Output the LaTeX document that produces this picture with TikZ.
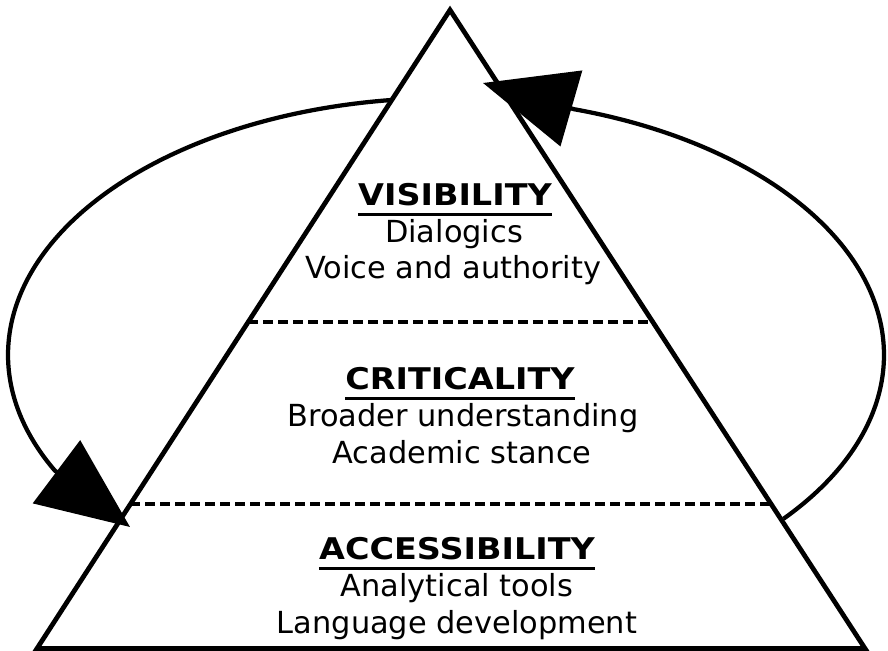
\documentclass[tikz,border=0pt]{standalone}
\usepackage{fontspec}
\setmainfont{DejaVu Sans}
\newfontfamily\headfont[FakeStretch=1.12]{DejaVu Sans}
\usepackage{tikz}
\usetikzlibrary{arrows.meta,calc}
\tikzset{pyramid/.style={line width=0.095cm, line join=miter},
  tier/.style={line width=0.075cm, dash pattern=on 0.2cm off 0.1cm},
  cyclearrow/.style={line width=0.085cm, -{Triangle[length=1.84cm,width=1.56cm]}},
  levelname/.style={inner sep=0, anchor=base, font=\fontsize{17}{21}\headfont\bfseries},
  levelitem/.style={inner sep=0, anchor=base, font=\fontsize{17.3}{21}\selectfont},
  uline/.style={line width=0.06cm}}

\begin{document}
\begin{tikzpicture}[x=0.02cm, y=0.02cm]
\useasboundingbox (0,0) rectangle (888,651);
\coordinate (bl) at (37,2.5);
\coordinate (br) at (865,2.5);
\coordinate (top) at (450,641);
\coordinate (c) at (446,296);
\coordinate (tipL) at (130,124);
\coordinate (tipR) at (483,568);
\draw[cyclearrow] (c) ++(97.3:438 and 257) arc[start angle=97.3, end angle=206.7, x radius=438, y radius=257] -- (tipL);
\draw[cyclearrow] (c) ++(-39.6:438 and 257) arc[start angle=-39.6, end angle=73, x radius=438, y radius=257] -- (tipR);
\draw[pyramid] (bl) -- (top) -- (br) -- cycle;
\draw[tier] ($(bl)!0.511!(top)$) -- ($(br)!0.511!(top)$);
\draw[tier] ($(bl)!0.226!(top)$) -- ($(br)!0.226!(top)$);
\node[levelname] (vis) at (455,445) {VISIBILITY};
\node[levelitem] (vis1) at (454,408) {Dialogics};
\node[levelitem] (vis2) at (453,372) {Voice and authority};
\node[levelname] (crit) at (460,261) {CRITICALITY};
\node[levelitem] (crit1) at (463,224) {Broader understanding};
\node[levelitem] (crit2) at (462,187) {Academic stance};
\node[levelname] (acc) at (457,91) {ACCESSIBILITY};
\node[levelitem] (acc1) at (457,54) {Analytical tools};
\node[levelitem] (acc2) at (457,17) {Language development};
\foreach \n in {vis,crit,acc}
  \draw[uline] ([yshift=-0.18cm]\n.base west) -- ([yshift=-0.18cm]\n.base east);
\end{tikzpicture}
\end{document}
